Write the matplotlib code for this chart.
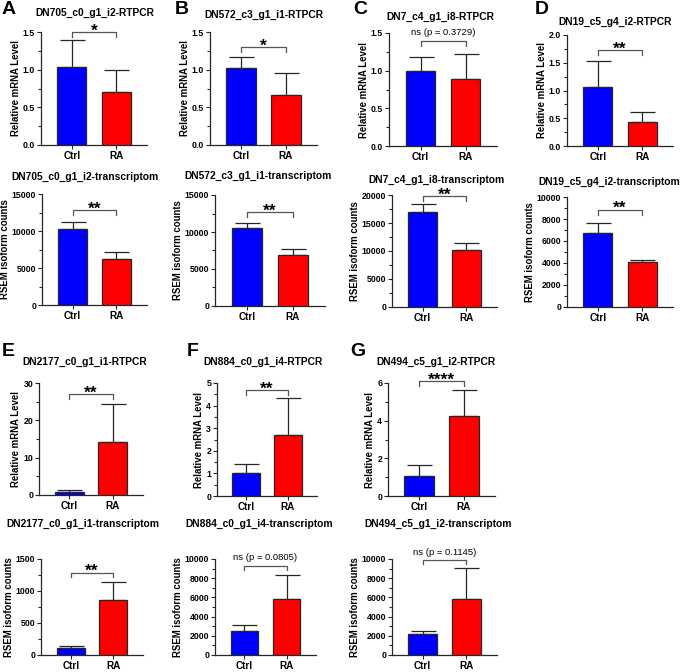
import matplotlib
matplotlib.use("Agg")
import matplotlib.pyplot as plt
from matplotlib.ticker import MultipleLocator, FormatStrFormatter

plt.rcParams['font.family'] = ['Liberation Sans', 'DejaVu Sans']

# ---------------- data ----------------
categories = ["Ctrl", "RA"]

rtpcr_titles = ["DN705_c0_g1_i2-RTPCR", "DN572_c3_g1_i1-RTPCR", "DN7_c4_g1_i8-RTPCR",
                "DN19_c5_g4_i2-RTPCR", "DN2177_c0_g1_i1-RTPCR", "DN884_c0_g1_i4-RTPCR",
                "DN494_c5_g1_i2-RTPCR"]
rtpcr_ctrl_mean = [1.04, 1.02, 1.00, 1.07, 0.9, 1.03, 1.04]
rtpcr_ctrl_err = [0.35, 0.15, 0.18, 0.46, 0.4, 0.38, 0.59]
rtpcr_ra_mean = [0.70, 0.66, 0.89, 0.43, 14.1, 2.68, 4.25]
rtpcr_ra_err = [0.30, 0.30, 0.33, 0.18, 10.3, 1.65, 1.40]
rtpcr_sig = ["*", "*", "ns (p = 0.3729)", "**", "**", "**", "****"]
rtpcr_ymax = [1.5, 1.5, 1.5, 2.0, 30, 5, 6]
rtpcr_major = [0.5, 0.5, 0.5, 0.5, 10, 1, 2]

tx_titles = ["DN705_c0_g1_i2-transcriptom", "DN572_c3_g1_i1-transcriptom",
             "DN7_c4_g1_i8-transcriptom", "DN19_c5_g4_i2-transcriptom",
             "DN2177_c0_g1_i1-transcriptom", "DN884_c0_g1_i4-transcriptom",
             "DN494_c5_g1_i2-transcriptom"]
tx_ctrl_mean = [10300, 10600, 16900, 6700, 113, 2550, 2220]
tx_ctrl_err = [950, 600, 1500, 950, 35, 600, 270]
tx_ra_mean = [6200, 6900, 10100, 4050, 858, 5860, 5860]
tx_ra_err = [1000, 800, 1300, 200, 275, 2450, 3240]
tx_sig = ["**", "**", "**", "**", "**", "ns (p = 0.0805)", "ns (p = 0.1145)"]
tx_ymax = [15000, 15000, 20000, 10000, 1500, 10000, 10000]
tx_major = [5000, 5000, 5000, 2000, 500, 2000, 2000]

panel_letters = ["A", "B", "C", "D", "E", "F", "G"]

# ---------------- layout (pixels) ----------------
W, H = 685, 672
# axes boxes: left, top, right, bottom
rtpcr_box = [(41, 32, 147, 145), (210, 32, 317, 145), (389, 33, 497, 146), (567, 35, 673, 146),
             (39, 383, 143, 495), (217, 383, 317, 496), (388, 383, 495, 496)]
tx_box = [(42, 194, 147, 305), (215, 195, 325, 306), (392, 195, 497, 307), (567, 197, 673, 307),
          (41, 559, 143, 655), (215, 559, 316, 655), (392, 559, 497, 655)]
rtpcr_title_pos = [(95, 13), (264, 15), (440, 17), (615, 22), (85, 362), (263, 362), (436, 362)]
tx_title_pos = [(85, 177), (258, 176), (436, 180), (609, 182), (83, 524), (259, 524), (438, 524)]
rtpcr_bracket = [1.50, 1.30, 1.39, 1.73, 27.0, 4.7, 6.09]
tx_bracket = [12880, 12740, 19820, 8855, 1286, 9310, 9910]
letter_pos = [(2, 10), (175, 10), (353, 10), (535, 10), (2, 352), (187, 352), (350, 352)]

colors = ["#0000FF", "#FF0000"]
dark = "#262626"

fig = plt.figure(figsize=(W / 100, H / 100), dpi=100)


def draw(box, tpos, title, ylabel, m, e, ymax, major, sig, by):
    L, T, R, B = box
    ax = fig.add_axes([L / W, 1 - B / H, (R - L) / W, (B - T) / H])
    x = [0, 1]
    ax.bar(x, m, width=0.66, color=colors, edgecolor=dark, linewidth=0.9, zorder=3)
    ax.errorbar(x, m, yerr=[[0, 0], e], fmt='none', ecolor=dark, elinewidth=0.9,
                capsize=9, capthick=0.9, zorder=2)
    ax.set_xlim(-0.7, 1.7)
    ax.set_ylim(0, ymax)
    ax.set_xticks(x)
    ax.set_xticklabels(categories, fontsize=7.2, fontweight='bold')
    ax.yaxis.set_major_locator(MultipleLocator(major))
    ax.yaxis.set_minor_locator(MultipleLocator(major / 2))
    ax.yaxis.set_major_formatter(FormatStrFormatter('%.1f' if major < 1 else '%d'))
    for lab in ax.get_yticklabels():
        lab.set_fontweight('bold')
        lab.set_fontsize(6.3)
    ax.tick_params(axis='both', which='major', length=3, width=0.8, color=dark, pad=1.2)
    ax.tick_params(axis='y', which='minor', length=2, width=0.8, color=dark)
    ax.tick_params(axis='x', which='minor', length=0)
    for s in ['top', 'right']:
        ax.spines[s].set_visible(False)
    for s in ['left', 'bottom']:
        ax.spines[s].set_color(dark)
        ax.spines[s].set_linewidth(0.9)
    ax.set_ylabel(ylabel, fontsize=6.9, fontweight='bold', labelpad=1.5)
    d = 0.045 * ymax
    ax.plot([0, 0, 1, 1], [by - d, by, by, by - d], color="#555555", lw=0.9, clip_on=False)
    if sig.startswith('ns'):
        ax.text(0.5, by + 0.035 * ymax, sig, ha='center', va='bottom', fontsize=6.8)
    else:
        ax.text(0.5, by - 0.06 * ymax, sig, ha='center', va='bottom', fontsize=12.5,
                fontweight='bold')
    fig.text(tpos[0] / W, 1 - tpos[1] / H, title, ha='center', va='center',
             fontsize=7.4, fontweight='bold')
    return ax


for i in range(7):
    draw(rtpcr_box[i], rtpcr_title_pos[i], rtpcr_titles[i], "Relative mRNA Level",
         [rtpcr_ctrl_mean[i], rtpcr_ra_mean[i]], [rtpcr_ctrl_err[i], rtpcr_ra_err[i]],
         rtpcr_ymax[i], rtpcr_major[i], rtpcr_sig[i], rtpcr_bracket[i])
    draw(tx_box[i], tx_title_pos[i], tx_titles[i], "RSEM isoform counts",
         [tx_ctrl_mean[i], tx_ra_mean[i]], [tx_ctrl_err[i], tx_ra_err[i]],
         tx_ymax[i], tx_major[i], tx_sig[i], tx_bracket[i])
    lx, ly = letter_pos[i]
    fig.text(lx / W, 1 - ly / H, panel_letters[i], ha='left', va='center',
             fontsize=14, fontweight='bold')

fig.savefig("out.png", dpi=100)
